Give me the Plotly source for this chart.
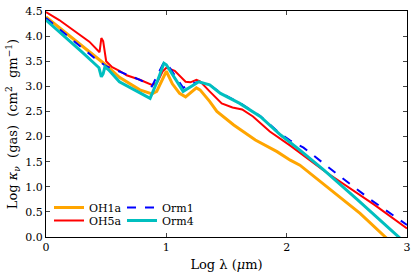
import plotly.graph_objects as go

# OH1a (orange)
oh1a_x = [0.0, 0.2, 0.4, 0.5, 0.61, 0.7, 0.78, 0.88, 0.92, 1.0, 1.05, 1.11, 1.16, 1.25, 1.28,
          1.36, 1.42, 1.56, 1.74, 1.92, 2.03, 2.11, 2.31, 2.61, 2.82, 3.0]
oh1a_y = [4.38, 4.0, 3.62, 3.42, 3.18, 3.04, 2.93, 2.85, 2.90, 3.30, 3.05, 2.86, 2.79, 2.97, 2.93,
          2.70, 2.50, 2.23, 1.93, 1.70, 1.53, 1.43, 1.04, 0.47, 0.0, -0.4]

# OH5a (red)
oh5a_x = [0.0, 0.11, 0.36, 0.43, 0.445, 0.46, 0.475, 0.5, 0.55, 0.61, 0.67, 0.78, 0.88, 0.92,
          0.97, 1.0, 1.07, 1.16, 1.2, 1.25, 1.28, 1.36, 1.46, 1.55, 1.63, 1.72, 1.86, 2.03,
          2.11, 2.31, 2.73, 3.0]
oh5a_y = [4.48, 4.32, 3.89, 3.70, 3.68, 3.96, 3.90, 3.50, 3.38, 3.31, 3.22, 3.13, 3.03, 3.06,
          3.30, 3.37, 3.31, 3.09, 3.08, 3.13, 3.10, 2.90, 2.66, 2.58, 2.54, 2.40, 2.10, 1.82,
          1.68, 1.32, 0.64, 0.17]

# Orm1 (blue dashed)
orm1_x = [0.0, 0.2, 0.4, 0.5, 0.61, 0.78, 0.88, 0.92, 0.98, 1.0, 1.14, 1.2, 1.27, 1.36, 1.45,
          1.61, 1.78, 1.95, 2.03, 2.14, 2.42, 2.7, 3.0]
orm1_y = [4.36, 3.97, 3.57, 3.40, 3.29, 3.13, 3.0, 3.2, 3.48, 3.47, 2.97, 3.05, 3.09, 3.03, 2.87,
          2.67, 2.41, 2.05, 1.92, 1.78, 1.25, 0.74, 0.24]

# Orm4 (cyan)
orm4_x = [0.0, 0.1, 0.2, 0.3, 0.4, 0.44, 0.46, 0.475, 0.49, 0.52, 0.61, 0.78, 0.865, 0.93, 0.98,
          1.0, 1.14, 1.27, 1.36, 1.45, 1.61, 1.78, 1.95, 2.11, 2.31, 2.59, 2.93, 3.0]
orm4_y = [4.32, 4.11, 3.90, 3.68, 3.46, 3.37, 3.19, 3.25, 3.39, 3.33, 3.09, 2.86, 2.76, 3.13, 3.46,
          3.43, 2.90, 3.09, 3.03, 2.86, 2.66, 2.40, 2.03, 1.73, 1.33, 0.74, 0.0, -0.15]

x_ticks = [0, 1, 2, 3]
y_ticks = [0.0, 0.5, 1.0, 1.5, 2.0, 2.5, 3.0, 3.5, 4.0, 4.5]

FONT = "DejaVu Serif"

fig = go.Figure()
fig.add_trace(go.Scatter(x=oh1a_x, y=oh1a_y, mode="lines", name="OH1a", showlegend=True,
                         line=dict(color="#FFA500", width=3), legend="legend"))
fig.add_trace(go.Scatter(x=oh5a_x, y=oh5a_y, mode="lines", name="OH5a", showlegend=True,
                         line=dict(color="#FF0000", width=2), legend="legend2"))
fig.add_trace(go.Scatter(x=orm1_x, y=orm1_y, mode="lines", name="Orm1", showlegend=True,
                         line=dict(color="#0000FF", width=2, dash="dash"), legend="legend3"))
fig.add_trace(go.Scatter(x=orm4_x, y=orm4_y, mode="lines", name="Orm4", showlegend=True,
                         line=dict(color="#00BFBF", width=3), legend="legend4"))

def px2paper_x(px):
    return (px - 46) / 361

def px2paper_y(py):
    return (237 - py) / 226

leg_common = dict(xanchor="left", yanchor="middle", bgcolor="rgba(0,0,0,0)",
                  font=dict(family=FONT, size=11, color="black"), itemwidth=30)

fig.update_layout(
    width=415, height=275,
    showlegend=True,
    margin=dict(l=46, r=8, t=11, b=38),
    plot_bgcolor="white", paper_bgcolor="white",
    font=dict(family=FONT, size=11, color="black"),
    legend=dict(x=px2paper_x(49), y=px2paper_y(207.5), **leg_common),
    legend2=dict(x=px2paper_x(49), y=px2paper_y(220.5), **leg_common),
    legend3=dict(x=px2paper_x(122), y=px2paper_y(207.5), **leg_common),
    legend4=dict(x=px2paper_x(122), y=px2paper_y(220.5), **leg_common),
    xaxis=dict(range=[0, 3], tickvals=x_ticks, ticktext=[str(v) for v in x_ticks],
               ticks="inside", ticklen=4, showline=True, linecolor="black", linewidth=1,
               mirror="ticks", showgrid=False, zeroline=False, automargin=False,
               title=dict(text="Log λ (<i>μ</i>m)", font=dict(family=FONT, size=13), standoff=6)),
    yaxis=dict(range=[0, 4.5], tickvals=y_ticks, ticktext=[f"{v:.1f}" for v in y_ticks],
               ticks="inside", ticklen=4, showline=True, linecolor="black", linewidth=1,
               mirror="ticks", showgrid=False, zeroline=False, automargin=False,
               title=dict(text="Log <i>κ</i><sub><i>ν</i></sub>&nbsp; (gas)&nbsp; (cm<sup>2</sup>&nbsp; gm<sup>−1</sup>)",
                          font=dict(family=FONT, size=13), standoff=4)),
)

fig.write_html("out.html", config={"displayModeBar": False},
               post_script="document.body.style.margin='0';document.body.style.padding='0';")
